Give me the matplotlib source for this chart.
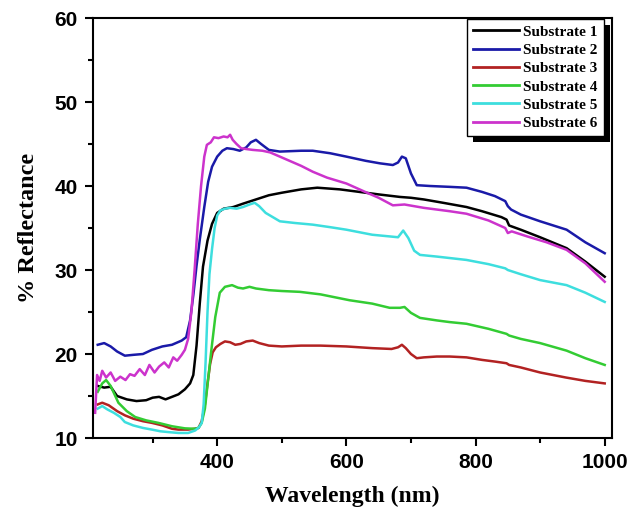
import matplotlib
matplotlib.use("Agg")
import matplotlib.pyplot as plt
from matplotlib.ticker import MultipleLocator
from matplotlib.patches import Rectangle
from matplotlib.transforms import IdentityTransform

labels = ["Substrate 1", "Substrate 2", "Substrate 3", "Substrate 4", "Substrate 5", "Substrate 6"]
colors = ["#000000", "#1a1aa8", "#b22222", "#33cc33", "#3ddede", "#cc33cc"]

x1 = [215, 225, 235, 245, 260, 275, 290, 300, 310, 320, 330, 340, 350, 358, 363, 368, 373, 378, 385, 392, 400, 410, 425, 440, 460, 480, 500, 530, 555, 590, 620, 650, 683, 700, 720, 750, 786, 810, 840, 848, 852, 870, 900, 941, 970, 1000]
y1 = [16.2, 16.0, 16.1, 15.0, 14.6, 14.4, 14.5, 14.8, 14.9, 14.6, 14.9, 15.2, 15.8, 16.5, 17.5, 21.0, 26.0, 30.4, 33.5, 35.5, 36.8, 37.3, 37.5, 37.9, 38.4, 38.9, 39.2, 39.6, 39.8, 39.6, 39.3, 39.0, 38.7, 38.6, 38.4, 38.0, 37.5, 37.0, 36.3, 36.0, 35.3, 34.8, 33.9, 32.6, 31.0, 29.2]

x2 = [215, 225, 235, 245, 257, 270, 285, 299, 315, 330, 345, 352, 358, 363, 368, 373, 380, 386, 392, 400, 408, 415, 425, 435, 445, 452, 460, 468, 480, 497, 530, 548, 575, 600, 630, 652, 672, 680, 686, 692, 700, 709, 730, 760, 786, 810, 830, 846, 850, 855, 870, 900, 941, 970, 1000]
y2 = [21.1, 21.3, 20.9, 20.3, 19.8, 19.9, 20.0, 20.5, 20.9, 21.1, 21.6, 22.0, 24.0, 27.0, 30.5, 33.6, 37.5, 40.5, 42.3, 43.5, 44.2, 44.5, 44.4, 44.2, 44.6, 45.2, 45.5, 45.0, 44.3, 44.1, 44.2, 44.2, 43.9, 43.5, 43.0, 42.7, 42.5, 42.8, 43.5, 43.3, 41.5, 40.1, 40.0, 39.9, 39.8, 39.3, 38.8, 38.2, 37.6, 37.2, 36.6, 35.8, 34.8, 33.3, 32.0]

x3 = [215, 222, 232, 245, 257, 270, 285, 299, 315, 330, 340, 355, 365, 371, 376, 381, 385, 389, 393, 398, 405, 412, 420, 428, 436, 445, 455, 465, 480, 500, 530, 560, 600, 640, 670, 680, 686, 692, 700, 709, 720, 740, 760, 786, 810, 830, 848, 852, 870, 900, 940, 970, 1000]
y3 = [14.0, 14.2, 13.9, 13.2, 12.7, 12.3, 12.0, 11.8, 11.5, 11.1, 11.0, 11.0, 11.1, 11.2, 12.0, 14.0, 16.5, 18.8, 20.2, 20.8, 21.2, 21.5, 21.4, 21.1, 21.2, 21.5, 21.6, 21.3, 21.0, 20.9, 21.0, 21.0, 20.9, 20.7, 20.6, 20.8, 21.1, 20.7, 20.0, 19.5, 19.6, 19.7, 19.7, 19.6, 19.3, 19.1, 18.9, 18.7, 18.4, 17.8, 17.2, 16.8, 16.5]

x4 = [215, 222, 228, 235, 247, 260, 273, 290, 309, 330, 350, 365, 371, 376, 381, 386, 391, 397, 404, 412, 423, 432, 440, 450, 460, 480, 500, 528, 560, 605, 640, 667, 683, 690, 700, 714, 740, 760, 786, 820, 848, 852, 870, 900, 941, 970, 1000]
y4 = [15.5, 16.5, 16.9, 16.2, 14.2, 13.2, 12.5, 12.1, 11.8, 11.4, 11.15, 11.1, 11.2, 11.8, 13.5, 17.0, 20.5, 24.4, 27.3, 28.0, 28.2, 27.9, 27.8, 28.0, 27.8, 27.6, 27.5, 27.4, 27.1, 26.4, 26.0, 25.5, 25.5, 25.6, 24.9, 24.3, 24.0, 23.8, 23.6, 23.0, 22.4, 22.2, 21.8, 21.3, 20.4, 19.5, 18.7]

x5 = [215, 222, 230, 240, 250, 257, 270, 285, 299, 312, 325, 340, 355, 366, 372, 376, 379, 382, 385, 388, 392, 396, 400, 405, 412, 420, 430, 440, 450, 458, 465, 475, 497, 520, 548, 575, 600, 640, 667, 680, 688, 696, 705, 714, 740, 786, 820, 846, 850, 870, 900, 941, 970, 1000]
y5 = [13.5, 13.8, 13.4, 13.0, 12.5, 11.9, 11.5, 11.2, 11.0, 10.8, 10.7, 10.6, 10.6, 10.9, 11.3, 11.8, 14.0, 19.0, 25.0, 29.5, 32.5, 35.0, 36.5, 37.1, 37.3, 37.4, 37.3, 37.5, 37.8, 38.0, 37.6, 36.8, 35.8, 35.6, 35.4, 35.1, 34.8, 34.2, 34.0, 33.9, 34.7, 33.8, 32.3, 31.8, 31.6, 31.2, 30.7, 30.2, 30.0, 29.5, 28.8, 28.2, 27.3, 26.2]

x6 = [211, 214, 218, 222, 228, 235, 242, 250, 258, 265, 272, 280, 288, 295, 303, 310, 318, 325, 332, 338, 345, 350, 355, 360, 365, 370, 375, 380, 384, 390, 395, 402, 410, 416, 420, 424, 430, 437, 445, 455, 470, 482, 500, 530, 548, 570, 600, 632, 650, 672, 690, 720, 760, 786, 820, 846, 850, 856, 880, 910, 941, 970, 1000]
y6 = [13.0, 17.5, 16.8, 18.0, 17.2, 17.8, 16.8, 17.3, 16.9, 17.6, 17.4, 18.2, 17.5, 18.7, 17.8, 18.5, 19.0, 18.4, 19.6, 19.2, 19.9, 20.5, 21.8, 25.0, 30.0, 35.5, 40.0, 43.5, 44.9, 45.2, 45.8, 45.7, 45.9, 45.8, 46.1, 45.5, 45.0, 44.5, 44.4, 44.3, 44.2, 44.0, 43.4, 42.4, 41.7, 41.0, 40.3, 39.2, 38.6, 37.7, 37.8, 37.4, 37.0, 36.7, 35.9, 35.0, 34.4, 34.6, 34.0, 33.3, 32.4, 30.8, 28.6]

xs = [x1, x2, x3, x4, x5, x6]
ys = [y1, y2, y3, y4, y5, y6]

fig = plt.figure(figsize=(6.34, 5.15), dpi=100)
ax = fig.add_axes([0.147, 0.1495, 0.818, 0.8155])

for xv, yv, c, lab in zip(xs, ys, colors, labels):
    ax.plot(xv, yv, color=c, lw=1.8, label=lab)

ax.set_xlim(208, 1011)
ax.set_ylim(10, 60)
ax.xaxis.set_major_locator(MultipleLocator(200))
ax.xaxis.set_minor_locator(MultipleLocator(100))
ax.yaxis.set_major_locator(MultipleLocator(10))
ax.yaxis.set_minor_locator(MultipleLocator(5))
ax.tick_params(which='major', direction='out', length=6, width=1.5, top=False, right=False, pad=5)
ax.tick_params(which='minor', direction='out', length=3.5, width=1.5, top=False, right=False)
for t in ax.get_xticklabels() + ax.get_yticklabels():
    t.set_fontfamily('Liberation Sans')
    t.set_fontweight('bold')
    t.set_fontsize(15)
for s in ax.spines.values():
    s.set_linewidth(1.5)

ax.set_xlabel("Wavelength (nm)", fontfamily='Liberation Serif', fontweight='bold', fontsize=17, labelpad=10)
ax.set_ylabel("% Reflectance", fontfamily='Liberation Serif', fontweight='bold', fontsize=17.5, labelpad=11)

leg = ax.legend(loc='upper right', bbox_to_anchor=(0.985, 0.998), borderaxespad=0,
                prop={'family': 'Liberation Serif', 'weight': 'bold', 'size': 11},
                frameon=True, fancybox=False, framealpha=1.0, handlelength=3.0, labelspacing=0.3,
                handletextpad=0.3, borderpad=0.4)
leg.get_frame().set_edgecolor('black')
leg.get_frame().set_facecolor('white')
leg.get_frame().set_linewidth(1.0)
leg.set_zorder(6)
for ln in leg.get_lines():
    ln.set_linewidth(2.0)

fig.canvas.draw()
bb = leg.get_window_extent()
shadow = Rectangle((bb.x0 + 6, bb.y0 - 6), bb.width, bb.height, transform=IdentityTransform(),
                   facecolor='black', edgecolor='none', zorder=5.5, clip_on=False)
ax.add_artist(shadow)

fig.savefig("out.png", dpi=100)
